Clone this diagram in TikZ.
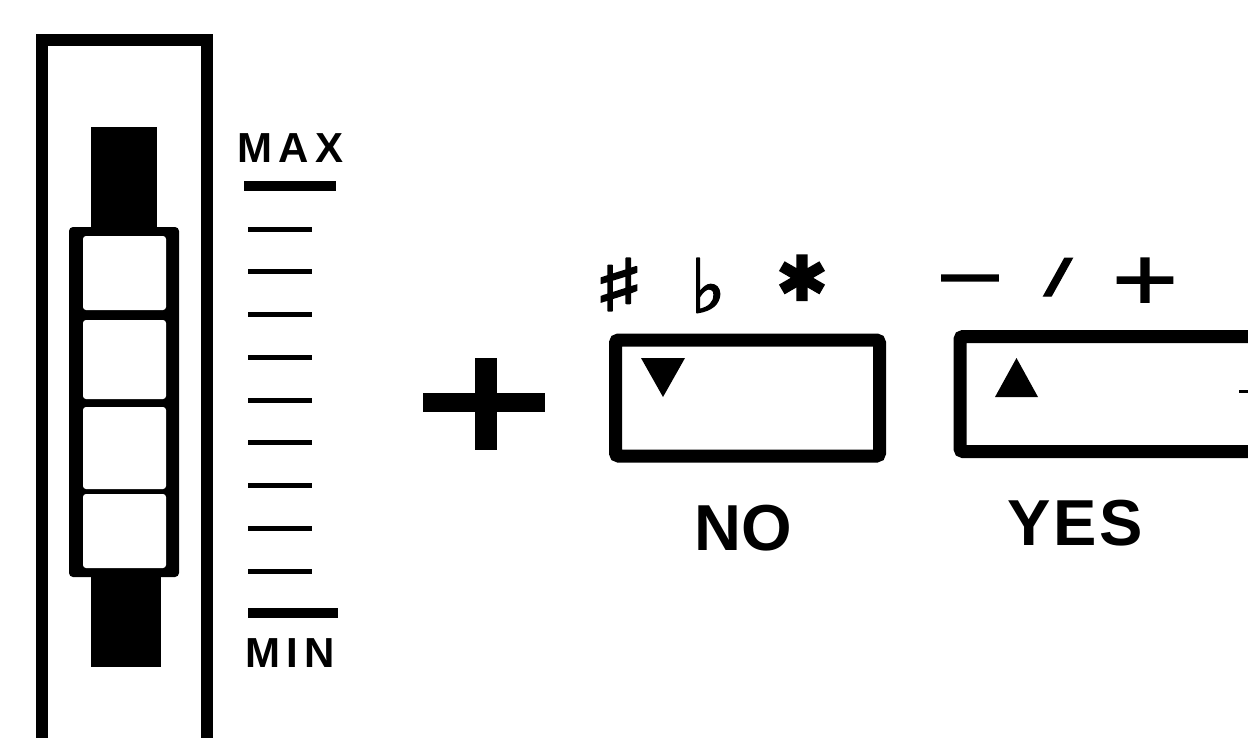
\documentclass[tikz,border=0pt]{standalone}
\usepackage{fontspec}
\setmainfont{Liberation Sans}
\newfontface\symfont[FakeBold=2.5]{DejaVu Sans}

\tikzset{
  frame/.style={line width=12pt},
  tickline/.style={line width=5pt},
  endline/.style={line width=10pt},
  keybox/.style={line width=13pt, rounded corners=3pt},
  scaletext/.style={font=\bfseries\fontsize{42}{42}\selectfont\addfontfeature{LetterSpace=15},
    inner sep=0pt, anchor=base west},
  keytext/.style={font=\bfseries\fontsize{65}{65}\selectfont, inner sep=0pt, anchor=base west},
  sym/.style={font=\symfont\fontsize{#1}{#1}\selectfont, inner sep=0pt, anchor=north}
}

\begin{document}
\begin{tikzpicture}[x=1pt,y=-1pt]
  \useasboundingbox (0,0) rectangle (1248,737);
  % 1. the slider housing, open at the bottom
  \draw[frame] (42,760) -- (42,39.5) -- (206.5,39.5) -- (206.5,760);
  % 2. the slider: knob ends and the four cells
  \fill (91,127) rectangle (157,228);
  \fill (91,576) rectangle (161,667);
  \fill[rounded corners=4pt] (69,227) rectangle (179,577);
  \foreach \ya/\yb in {236/310, 320/399, 407/489, 494/568}
    \fill[white, rounded corners=3pt] (83,\ya) rectangle (166,\yb);
  % 3. the scale with its end marks
  \draw[endline] (244,186) -- (336,186);
  \foreach \k in {0,...,8}
    \draw[tickline] (248,229+42.75*\k) -- (312,229+42.75*\k);
  \draw[endline] (248,613) -- (338,613);
  \node[scaletext] (max) at (237,162) {MAX};
  \node[scaletext] (min) at (245,667) {MIN};
  % 4. the big plus
  \draw[line width=19pt] (423,402) -- (545,402);
  \draw[line width=22pt] (486,358) -- (486,450);
  % 5. the NO key
  \draw[keybox] (615.5,340) rectangle (879.5,456);
  \fill (641,358) -- (685,358) -- (663,397) -- cycle;
  \node[sym=72] (sharp) at (619,258) {\scalebox{1.5}[1]{♯}};
  \node[sym=74] (flat) at (708,258) {♭};
  \node[sym=62] (star) at (802,255) {✱};
  \node[keytext] (no) at (694,550) {NO};
  % 6. the YES key, cut by the edge
  \draw[keybox] (1270,336.5) -- (960,336.5) -- (960,451.5) -- (1270,451.5);
  \fill (995,397) -- (1038,397) -- (1016.5,358) -- cycle;
  \draw[line width=3pt] (1239,391) -- (1250,391);
  \node[sym=68] (minus) at (970,275) {\scalebox{1.3}[1]{−}};
  \node[sym=46] (slash) at (1058,258) {\scalebox{1.8}[1]{/}};
  \node[sym=70] (plus) at (1145,258) {\scalebox{1.25}[1]{+}};
  \node[keytext] (yes) at (1007,545) {\addfontfeature{LetterSpace=4}YES};
\end{tikzpicture}
\end{document}
